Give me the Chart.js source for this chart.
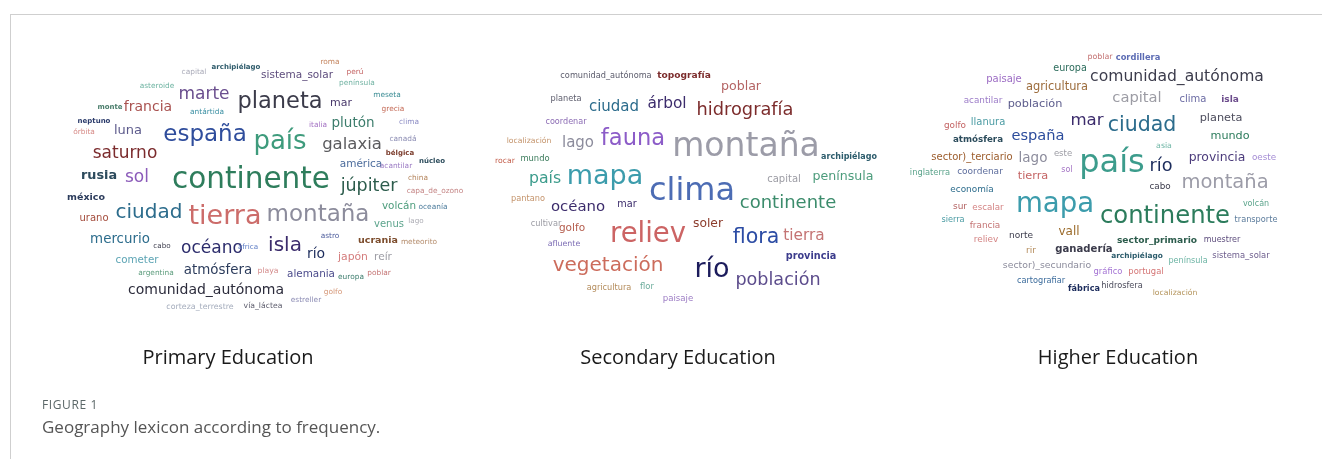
<!DOCTYPE html>
<html>
<head>
<meta charset="utf-8">
<script src="https://cdn.jsdelivr.net/npm/chart.js@4/dist/chart.umd.min.js"></script>
<style>
  html,body{margin:0;padding:0;background:#fff;}
  body{width:1322px;height:459px;overflow:hidden;position:relative;font-family:"Open Sans",sans-serif;}
  #frame{position:absolute;left:10px;top:14px;right:0;bottom:0;border-left:1px solid #cfcfcf;border-top:1px solid #cfcfcf;}
  #c{position:absolute;left:0;top:0;}
  .ttl{position:absolute;top:343px;height:28px;line-height:28px;width:300px;text-align:center;font-size:20px;color:#1a1a1a;}
  #fig{position:absolute;left:42px;top:396px;font-size:12px;letter-spacing:0.6px;color:#5b6768;}
  #cap{position:absolute;left:42px;top:415px;font-size:17px;color:#555;}
</style>
</head>
<body>
<div id="frame"></div>
<canvas id="c" width="1322" height="459"></canvas>
<div class="ttl" style="left:78px">Primary Education</div>
<div class="ttl" style="left:528px">Secondary Education</div>
<div class="ttl" style="left:968px">Higher Education</div>
<div id="fig">FIGURE 1</div>
<div id="cap">Geography lexicon according to frequency.</div>
<script>
// ---- Primary Education ----
const primaryWords = ["capital","archipiélago","asteroide","marte","planeta","monte","francia","antártida","neptuno","órbita","luna","españa","país","saturno","rusia","sol","continente","roma","sistema_solar","perú","península","mar","meseta","grecia","italia","plutón","clima","galaxia","canadá","bélgica","américa","acantilar","núcleo","china","júpiter","méxico","urano","ciudad","tierra","mercurio","cabo","océano","áfrica","cometer","argentina","atmósfera","comunidad_autónoma","corteza_terrestre","vía_láctea","capa_de_ozono","montaña","volcán","oceanía","venus","lago","astro","ucrania","meteorito","isla","río","japón","reír","playa","alemania","europa","poblar","golfo","estreller"];
const primaryX = [194,236,157,204,280,110,148,207,94,84,128,205,280,125,99,137,251,330,297,355,357,341,387,393,318,353,409,352,403,400,361,396,432,418,369,86,94,149,225,120,162,212,248,137,156,218,206,200,263,435,318,399,433,389,416,330,378,419,285,316,353,383,268,311,351,379,333,306];
const primaryY = [72,67,86,94,102,107,107,112,121,132,130,135,142,153,176,177,180,62,75,72,83,103,95,109,125,123,122,145,139,153,164,166,161,178,186,197,218,213,217,239,246,248,247,260,273,270,290,307,306,191,215,206,207,224,221,236,240,242,246,254,257,257,271,274,277,273,292,300];
const primaryFreq = [7,7,7,17,22.5,7,14,7,7,7,13,23,26,17,13.5,17,29.5,7,10.5,7,7,11,7,7,7,13.5,7,16.5,7,7,10.5,7,7,7,17.5,10,10,20,27,13.4,6.8,17,6.8,10.3,7,13.4,14,7.5,7.3,7,23,10.4,7,10,6.8,7,10,7,20,14,10.8,10.6,7.3,10.4,7,7,7,7];
const primaryColors = ["#a9aab8","#2e5b6b","#6db3a1","#6b4f8f","#3b3b4a","#4a7d6b","#a9514f","#3a8fa3","#2b3b6b","#d68a86","#5d5b8c","#2f4d9c","#3e9b7c","#7b2b2d","#2c4a5c","#8c5cba","#2e7d5c","#c4845e","#5e4d7d","#c46565","#72b3a3","#4a3a6c","#3a8c94","#c46a56","#a473c4","#3c7d6c","#8c8cc4","#5b5b5e","#8b8cb3","#7b3c2c","#4c6c9c","#9c7cc4","#2c4c5c","#b4845c","#2c5c4c","#2c3c5c","#a44c3c","#2c6c8c","#cc6c6a","#2c6c8c","#3c3c4c","#2c2c6c","#5c7cc4","#5ca4b4","#5c9c7c","#2c3c5c","#2c2c3c","#a4acbc","#5c5c6c","#c48484","#8c8c9c","#4c9c7c","#4c7c9c","#5ca48c","#acacb4","#4c5c9c","#7c4c2c","#b48c6c","#3c2c6c","#1c2c5c","#d47c7c","#9c9ca4","#d48c8c","#4c4c8c","#3c7c6c","#c47474","#d49474","#8c8cb4"];
const primaryBold = ["archipiélago","monte","neptuno","bélgica","núcleo","méxico","ucrania","rusia"];

// ---- Secondary Education ----
const secondaryWords = ["comunidad_autónoma","topografía","planeta","ciudad","árbol","coordenar","localización","lago","fauna","rocar","mundo","país","mapa","poblar","hidrografía","montaña","archipiélago","capital","península","pantano","océano","mar","clima","cultivar","golfo","reliev","afluente","vegetación","agricultura","flor","paisaje","continente","soler","flora","tierra","provincia","río","población"];
const secondaryX = [606,684,566,614,667,566,529,578,633,505,535,545,605,741,745,746,849,784,843,528,578,627,692,546,572,648,564,608,609,647,678,788,708,756,804,811,712,778];
const secondaryY = [76,76,99,107,104,122,141,143,139,161,159,179,177,87,110,147,157,179,177,199,207,204,191,224,228,235,244,266,288,287,299,203,224,237,236,256,270,280];
const secondaryFreq = [7.8,9.6,7.8,15,15.4,7.7,7.3,15,22.6,7.3,8,15.7,27,12.6,17.8,33,8,10,12.6,7.8,14.9,9.7,32,7.8,10.5,27.5,7.5,20,7.8,8,8.2,18,12.3,20.5,15.3,10.2,27,17.6];
const secondaryColors = ["#5c5c6c","#7c2c2c","#5c5c6c","#2c6c8c","#3c2c6c","#8c6cb4","#c4946c","#8c8c9c","#8c5cc8","#c4604e","#3c7c5c","#3c9c8c","#3c9cac","#b46464","#7c2c2c","#9c9ca8","#2c5c6c","#9c9ca4","#4c9c7c","#c4946c","#3c2c6c","#3c2c6c","#4c6cb4","#9c9ca4","#b45c4c","#cc6464","#7c6cb4","#cc6c5c","#b48c5c","#6cac9c","#9c7cc4","#3c8c6c","#8c3c2c","#2c4ca4","#c47474","#3c3c8c","#1c1c5c","#5c4c8c"];
const secondaryBold = ["topografía","archipiélago","provincia"];

// ---- Higher Education ----
const higherWords = ["poblar","cordillera","europa","paisaje","agricultura","comunidad_autónoma","acantilar","población","golfo","llanura","mar","atmósfera","españa","sector)_terciario","lago","este","inglaterra","coordenar","tierra","sol","país","capital","clima","isla","ciudad","planeta","mundo","asia","río","provincia","oeste","economía","mapa","sur","escalar","sierra","francia","vall","reliev","norte","rir","ganadería","sector)_secundario","cartografiar","fábrica","gráfico","cabo","montaña","volcán","continente","transporte","sector_primario","muestrer","archipiélago","península","sistema_solar","portugal","hidrosfera","localización"];
const higherX = [1100,1138,1070,1004,1057,1177,983,1035,955,988,1087,978,1038,972,1033,1063,930,980,1033,1067,1112,1137,1193,1230,1142,1221,1230,1164,1161,1217,1264,972,1055,960,988,953,985,1069,986,1021,1031,1084,1047,1041,1084,1108,1160,1225,1256,1165,1256,1157,1222,1137,1188,1241,1146,1122,1175];
const higherY = [57,58,68,79,87,77,101,104,126,122,121,140,136,157,158,154,173,172,176,170,163,98,99,100,125,118,136,146,166,158,158,190,205,207,208,220,226,232,240,236,251,249,265,281,289,272,187,183,204,216,220,241,240,256,261,256,272,286,293];
const higherFreq = [7.5,8.3,9.6,10,11.4,15.6,8.8,11.3,8.9,10,16.6,9.2,14.6,10,13.5,8.5,7.9,9,11.3,7.6,32,14.7,10,9.5,20.5,11.3,11.2,7.4,17.7,12.4,8.8,8.9,27.6,9,8.7,7.8,8.9,12,8.9,9,9,10.6,9.3,7.8,8.5,8,8.8,19.5,7.6,24.3,7.8,9.6,7.6,7.4,7.7,8,8,7.8,7.3];
const higherColors = ["#c47474","#5c6cb4","#2c6c5c","#9c6cc4","#9c6c3c","#3c3c4c","#9c7cc8","#5c5c8c","#c46464","#4c9ca4","#3c2c6c","#2c4c5c","#2c4c9c","#9c5c2c","#8c8c9c","#9c9ca4","#5ca48c","#5c6c9c","#c46464","#a474c4","#3c9c8c","#9c9ca4","#6c6ca4","#6c4c8c","#2c6c8c","#4c4c5c","#2c7c5c","#6cb4a4","#1c2c5c","#4c3c7c","#a48cd4","#2c6c8c","#3c9cac","#b46464","#d48484","#4c9ca4","#c47474","#9c6c2c","#d48484","#3c3c4c","#b48c5c","#3c3c4c","#8c8c9c","#3c6c9c","#1c2c5c","#a474d4","#3c3c4c","#9c9ca8","#5ca48c","#2c7c5c","#5c7c9c","#2c5c4c","#5c4c7c","#2c5c6c","#6cb4a4","#6c5c8c","#d47474","#4c4c5c","#b4945c"];
const higherBold = ["cordillera","atmósfera","isla","fábrica","archipiélago","sector_primario","ganadería"];

function makeSet(label, words, xs, ys, freq, colors, bold) {
  return {
    label,
    data: words.map((w, i) => ({ x: xs[i], y: ys[i] })),
    words, freq, colors, bold: new Set(bold),
    pointRadius: 0, pointHoverRadius: 0, showLine: false
  };
}

const wordPlugin = {
  id: 'wordcloud',
  afterDatasetsDraw(chart) {
    const ctx = chart.ctx;
    ctx.save();
    chart.data.datasets.forEach((ds, di) => {
      const meta = chart.getDatasetMeta(di);
      meta.data.forEach((pt, i) => {
        const size = ds.freq[i];
        const b = ds.bold.has(ds.words[i]);
        let fs = size < 8.5 ? size + 0.4 : size;
        if (b) fs *= 0.95;
        ctx.font = (b ? 'bold ' : '') + fs.toFixed(1) + 'px "DejaVu Sans"';
        ctx.fillStyle = ds.colors[i];
        ctx.textAlign = 'center';
        ctx.textBaseline = 'alphabetic';
        ctx.fillText(ds.words[i], pt.x, pt.y + 0.27 * fs);
      });
    });
    ctx.restore();
  }
};

new Chart(document.getElementById('c'), {
  type: 'scatter',
  data: {
    datasets: [
      makeSet('Primary Education', primaryWords, primaryX, primaryY, primaryFreq, primaryColors, primaryBold),
      makeSet('Secondary Education', secondaryWords, secondaryX, secondaryY, secondaryFreq, secondaryColors, secondaryBold),
      makeSet('Higher Education', higherWords, higherX, higherY, higherFreq, higherColors, higherBold)
    ]
  },
  options: {
    responsive: false,
    animation: false,
    events: [],
    layout: { padding: 0 },
    plugins: { legend: { display: false }, tooltip: { enabled: false } },
    scales: {
      x: { type: 'linear', min: 0, max: 1322, display: false },
      y: { type: 'linear', min: 0, max: 459, reverse: true, display: false }
    }
  },
  plugins: [wordPlugin]
});
</script>
</body>
</html>
